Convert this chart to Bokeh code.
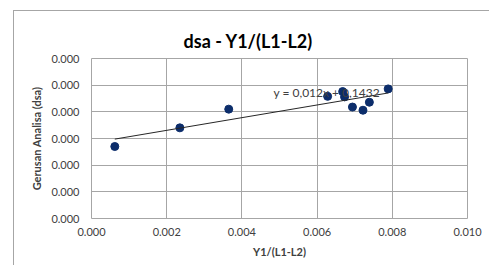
import numpy as np
from bokeh.plotting import figure
from bokeh.models import FixedTicker, PrintfTickFormatter, Range1d, Label, Title
from bokeh.embed import file_html
from bokeh.resources import INLINE

# data
x_vals = [0.00062, 0.00235, 0.00365, 0.00628, 0.00668, 0.00673, 0.00694, 0.00722, 0.00739, 0.00789]
y_vals = [0.000135, 0.000170, 0.000205, 0.000229, 0.000238, 0.000228, 0.000209, 0.000203, 0.000218, 0.000243]
x_ticks = [0.0, 0.002, 0.004, 0.006, 0.008, 0.010]
y_ticks = [0.0, 0.00005, 0.0001, 0.00015, 0.0002, 0.00025, 0.0003]
title_text = "dsa - Y1/(L1-L2)"
x_label = "Y1/(L1-L2)"
y_label = "Gerusan Analisa (dsa)"
eq_text = "y = 0,012x + 0,1432"

FONT = "Lato"
GRID = "#a6a6a6"
TXT = "#404040"

p = figure(frame_width=376, frame_height=160, output_backend="svg", toolbar_location=None,
           x_range=Range1d(0, 0.010), y_range=Range1d(0, 0.0003),
           min_border_left=77, min_border_right=22, min_border_top=47, min_border_bottom=47)
p.margin = (10, 0, 0, 13)
p.styles = {"border-left": "1px solid #a6a6a6", "border-top": "1px solid #a6a6a6"}

t = Title(text=title_text, align="left", offset=92, text_font=FONT, text_font_size="18px",
          text_font_style="bold", text_color="#000000", standoff=14)
p.add_layout(t, "above")

p.outline_line_color = GRID
p.outline_line_width = 1
p.background_fill_color = "white"
p.border_fill_color = "white"

p.xaxis.ticker = FixedTicker(ticks=x_ticks)
p.yaxis.ticker = FixedTicker(ticks=y_ticks)
p.xaxis.formatter = PrintfTickFormatter(format="%.3f")
p.yaxis.formatter = PrintfTickFormatter(format="%.3f")

for ax in (p.xaxis, p.yaxis):
    ax.axis_line_color = None
    ax.major_tick_line_color = None
    ax.minor_tick_line_color = None
    ax.major_tick_out = 0
    ax.major_tick_in = 0
    ax.major_label_text_font = FONT
    ax.major_label_text_font_size = "11px"
    ax.major_label_text_color = TXT
    ax.axis_label_text_font = FONT
    ax.axis_label_text_font_size = "11px"
    ax.axis_label_text_font_style = "bold"
    ax.axis_label_text_color = TXT

p.xaxis.axis_label = x_label
p.yaxis.axis_label = y_label
p.xaxis.major_label_standoff = 9
p.yaxis.major_label_standoff = 12
p.xaxis.axis_label_standoff = 6
p.yaxis.axis_label_standoff = 5

p.xgrid.grid_line_color = GRID
p.ygrid.grid_line_color = GRID
p.xgrid.ticker = FixedTicker(ticks=x_ticks)
p.ygrid.ticker = FixedTicker(ticks=y_ticks)

p.scatter(x_vals, y_vals, size=8, color="#0c2d6b")

coef = np.polyfit(x_vals, y_vals, 1)
xs = [min(x_vals), max(x_vals)]
ys = [coef[0] * v + coef[1] for v in xs]
p.line(xs, ys, line_color="#262626", line_width=1)

p.add_layout(Label(x=0.00484, y=0.000237, text=eq_text, text_font=FONT, text_font_size="12px",
                   text_color=TXT, text_baseline="middle"))

open("out.html", "w").write(file_html(p, INLINE))
